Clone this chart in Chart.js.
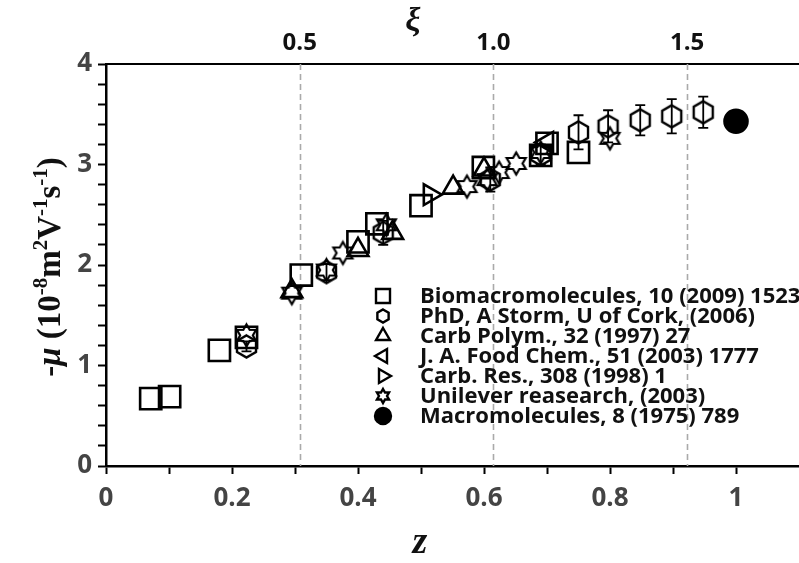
<!DOCTYPE html>
<html>
<head>
<meta charset="utf-8">
<script src="https://cdn.jsdelivr.net/npm/chart.js"></script>
<style>
  body { margin: 0; background: #fff; }
  #wrap { width: 799px; height: 563px; }
</style>
</head>
<body>
<div id="wrap"><canvas id="mobilityChart" width="799" height="563"></canvas></div>
<script>
// Electrophoretic mobility of pectins against charge fraction z, collected from several sources

const biomacroZ  = [0.071, 0.101, 0.180, 0.223, 0.310, 0.400, 0.430, 0.500, 0.599, 0.690, 0.700, 0.750];
const biomacroMu = [0.67, 0.69, 1.15, 1.28, 1.90, 2.23, 2.41, 2.59, 2.97, 3.09, 3.21, 3.12];

const stormZ   = [0.223, 0.350, 0.440, 0.610, 0.690, 0.750, 0.797, 0.848, 0.898, 0.948];
const stormMu  = [1.19, 1.93, 2.32, 2.85, 3.10, 3.32, 3.38, 3.44, 3.48, 3.52];
const stormErr = [0.05, 0.08, 0.12, 0.12, 0.10, 0.17, 0.16, 0.15, 0.17, 0.155];

const carbPolymZ  = [0.295, 0.400, 0.455, 0.551, 0.600];
const carbPolymMu = [1.74, 2.15, 2.32, 2.77, 2.95];

const foodChemZ  = [0.700];
const foodChemMu = [3.22];

const carbResZ  = [0.514];
const carbResMu = [2.70];

const unileverZ  = [0.223, 0.295, 0.350, 0.376, 0.445, 0.573, 0.605, 0.624, 0.651, 0.690, 0.800];
const unileverMu = [1.30, 1.72, 1.95, 2.12, 2.40, 2.78, 2.85, 2.92, 3.01, 3.12, 3.26];

const macroZ  = [1.0];
const macroMu = [3.43];

// top axis: degree of charge xi, xi = 1 sits at z = 0.615
const zPerXi = 0.615;
const xiTicks = [0.5, 1.0, 1.5];

const pairs = (xs, ys) => xs.map((v, i) => ({x: v, y: ys[i]}));

// outline paths for the marker shapes, centred on 0,0
function traceShape(ctx, kind, r) {
  ctx.beginPath();
  if (kind === 'rect') {
    ctx.rect(-r, -r, 2 * r, 2 * r);
  } else if (kind === 'circle') {
    ctx.arc(0, 0, r, 0, Math.PI * 2);
  } else if (kind === 'hexagon') {
    for (let i = 0; i < 6; i++) {
      const a = -Math.PI / 2 + i * Math.PI / 3;
      ctx.lineTo(Math.cos(a) * r, Math.sin(a) * r);
    }
  } else if (kind === 'hexagram') {
    for (let i = 0; i < 12; i++) {
      const a = -Math.PI / 2 + i * Math.PI / 6;
      const rr = i % 2 ? r / Math.sqrt(3) : r;
      ctx.lineTo(Math.cos(a) * rr, Math.sin(a) * rr);
    }
  } else {
    const rot = kind === 'triLeft' ? -Math.PI / 2 : kind === 'triRight' ? Math.PI / 2 : 0;
    for (let i = 0; i < 3; i++) {
      const a = rot - Math.PI / 2 + i * 2 * Math.PI / 3;
      ctx.lineTo(Math.cos(a) * r, Math.sin(a) * r);
    }
  }
  ctx.closePath();
}

function markerCanvas(kind, r, lw) {
  const size = Math.ceil(2 * r + 2 * lw + 2);
  const c = document.createElement('canvas');
  c.width = size;
  c.height = size;
  const ctx = c.getContext('2d');
  ctx.translate(size / 2, size / 2);
  traceShape(ctx, kind, r);
  ctx.lineWidth = lw;
  ctx.strokeStyle = '#000';
  ctx.stroke();
  return c;
}

const hexagonImg = markerCanvas('hexagon', 11, 2.4);
const hexagramImg = markerCanvas('hexagram', 11, 2.2);

const common = {
  borderColor: '#000',
  backgroundColor: 'rgba(0,0,0,0)',
  borderWidth: 2.6
};

const datasets = [
  {label: 'Biomacromolecules, 10 (2009) 1523', data: pairs(biomacroZ, biomacroMu),
   pointStyle: 'rect', pointRadius: 15, legendShape: 'rect', legendSize: 7},
  {label: 'PhD, A Storm, U of Cork, (2006)', data: pairs(stormZ, stormMu), errors: stormErr,
   pointStyle: hexagonImg, pointRadius: 11, legendShape: 'hexagon', legendSize: 6.5},
  {label: 'Carb Polym., 32 (1997) 27', data: pairs(carbPolymZ, carbPolymMu),
   pointStyle: 'triangle', pointRadius: 12, legendShape: 'triangle', legendSize: 8},
  {label: 'J. A. Food Chem., 51 (2003) 1777', data: pairs(foodChemZ, foodChemMu),
   pointStyle: 'triangle', pointRotation: -90, pointRadius: 12, legendShape: 'triLeft', legendSize: 8},
  {label: 'Carb. Res., 308 (1998) 1', data: pairs(carbResZ, carbResMu),
   pointStyle: 'triangle', pointRotation: 90, pointRadius: 12, legendShape: 'triRight', legendSize: 8},
  {label: 'Unilever reasearch, (2003)', data: pairs(unileverZ, unileverMu),
   pointStyle: hexagramImg, pointRadius: 11, legendShape: 'hexagram', legendSize: 7},
  {label: 'Macromolecules, 8 (1975) 789', data: pairs(macroZ, macroMu),
   pointStyle: 'circle', pointRadius: 11.5, backgroundColor: '#000', legendShape: 'circle', legendSize: 8, filled: true}
].map(ds => Object.assign({}, common, ds));

// dashed verticals at the labelled xi values
const xiLines = {
  id: 'xiLines',
  beforeDatasetsDraw(chart) {
    const {ctx, chartArea, scales: {x}} = chart;
    ctx.save();
    ctx.strokeStyle = '#aaa';
    ctx.lineWidth = 1.6;
    ctx.setLineDash([6, 4]);
    xiTicks.forEach(xi => {
      const px = Math.round(x.getPixelForValue(xi * zPerXi)) + 0.5;
      ctx.beginPath();
      ctx.moveTo(px, chartArea.top);
      ctx.lineTo(px, chartArea.bottom);
      ctx.stroke();
    });
    ctx.restore();
  }
};

// vertical error bars with caps
const errorBars = {
  id: 'errorBars',
  afterDatasetsDraw(chart) {
    const {ctx, scales: {x, y}} = chart;
    ctx.save();
    ctx.strokeStyle = '#000';
    ctx.lineWidth = 1.8;
    chart.data.datasets.forEach(ds => {
      if (!ds.errors) return;
      ds.data.forEach((p, i) => {
        const e = ds.errors[i];
        if (!e) return;
        const px = x.getPixelForValue(p.x);
        const top = y.getPixelForValue(p.y + e);
        const bot = y.getPixelForValue(p.y - e);
        ctx.beginPath();
        ctx.moveTo(px, top); ctx.lineTo(px, bot);
        ctx.moveTo(px - 5, top); ctx.lineTo(px + 5, top);
        ctx.moveTo(px - 5, bot); ctx.lineTo(px + 5, bot);
        ctx.stroke();
      });
    });
    ctx.restore();
  }
};

// legend inside the plot, lower right
const sourceLegend = {
  id: 'sourceLegend',
  afterDraw(chart) {
    const {ctx} = chart;
    const markX = 383, textX = 420, top = 296, rowH = 20;
    ctx.save();
    ctx.font = "bold 22px 'Open Sans', sans-serif";
    ctx.textBaseline = 'middle';
    ctx.fillStyle = '#111';
    chart.data.datasets.forEach((ds, i) => {
      const cy = top + i * rowH;
      ctx.save();
      ctx.translate(markX, cy);
      traceShape(ctx, ds.legendShape, ds.legendSize);
      ctx.lineWidth = 2.4;
      ctx.strokeStyle = '#000';
      if (ds.filled) { ctx.fillStyle = '#000'; ctx.fill(); }
      ctx.stroke();
      ctx.restore();
      ctx.fillText(ds.label, textX, cy + 1);
    });
    ctx.restore();
  }
};

// axis titles: xi on top, z below, mobility with units on the left
const axisTitles = {
  id: 'axisTitles',
  afterDraw(chart) {
    const {ctx} = chart;
    ctx.save();
    ctx.fillStyle = '#111';
    ctx.textAlign = 'center';
    ctx.textBaseline = 'alphabetic';
    ctx.font = "bold italic 34px 'Liberation Serif', serif";
    ctx.fillText('\u03BE', 413, 31);
    ctx.font = "bold italic 38px 'Liberation Serif', serif";
    ctx.fillText('z', 420, 553);

    const big = 33, small = 21;
    const parts = [
      ['-', 'bold', big, 0], ['\u03BC', 'bold italic', big, 0], [' (10', 'bold', big, 0],
      ['-8', 'bold', small, 1], ['m', 'bold', big, 0], ['2', 'bold', small, 1],
      ['V', 'bold', big, 0], ['-1', 'bold', small, 1], ['s', 'bold', big, 0],
      ['-1', 'bold', small, 1], [')', 'bold', big, 0]
    ];
    let total = 0;
    parts.forEach(p => {
      ctx.font = `${p[1]} ${p[2]}px 'Liberation Serif', serif`;
      p.push(ctx.measureText(p[0]).width);
      total += p[4];
    });
    ctx.translate(60, 267);
    ctx.rotate(-Math.PI / 2);
    ctx.textAlign = 'left';
    let pos = -total / 2;
    parts.forEach(p => {
      ctx.font = `${p[1]} ${p[2]}px 'Liberation Serif', serif`;
      ctx.fillText(p[0], pos, p[3] ? -13 : 0);
      pos += p[4];
    });
    ctx.restore();
  }
};

const tickFont = {family: "'Open Sans', sans-serif", size: 26, weight: 'bold'};

// drop the room Chart.js keeps for edge labels so the plot runs to the right edge
const noSidePadding = s => { s.paddingLeft = 0; s.paddingRight = 0; };

new Chart(document.getElementById('mobilityChart').getContext('2d'), {
  type: 'scatter',
  data: {datasets: datasets},
  options: {
    responsive: false,
    animation: false,
    events: [],
    layout: {padding: 0, autoPadding: false},
    plugins: {legend: {display: false}, tooltip: {enabled: false}},
    scales: {
      x: {
        type: 'linear', position: 'bottom', min: 0, max: 1.1,
        afterFit: s => { s.height = 97; noSidePadding(s); },
        afterBuildTicks: s => {
          s.ticks = [];
          for (let i = 0; i <= 10; i++) s.ticks.push({value: i / 10});
        },
        ticks: {
          autoSkip: false, maxRotation: 0, color: '#444', font: tickFont, padding: 9,
          callback: v => (Math.round(v * 10) % 2 === 0 ? String(+v.toFixed(1)) : '')
        },
        grid: {drawOnChartArea: false, color: '#000', tickLength: 8, tickWidth: 2},
        border: {color: '#000', width: 2.5}
      },
      x2: {
        type: 'linear', position: 'top', min: 0, max: 1.1,
        afterFit: s => { s.height = 64; noSidePadding(s); },
        afterBuildTicks: s => { s.ticks = xiTicks.map(xi => ({value: xi * zPerXi})); },
        ticks: {
          autoSkip: false, maxRotation: 0, color: '#111', padding: 6,
          font: {family: "'Liberation Sans Narrow', 'Open Sans', sans-serif", size: 24, weight: 'bold'},
          callback: v => (v / zPerXi).toFixed(1)
        },
        grid: {drawOnChartArea: false, drawTicks: false},
        border: {color: '#000', width: 2}
      },
      y: {
        type: 'linear', min: 0, max: 4,
        afterFit: s => { s.width = 106; },
        ticks: {
          stepSize: 0.2, autoSkip: false, color: '#444', font: tickFont, padding: 6,
          callback: v => (Math.abs(v - Math.round(v)) < 1e-6 ? String(Math.round(v)) : '')
        },
        grid: {drawOnChartArea: false, color: '#000', tickLength: 8, tickWidth: 2},
        border: {color: '#000', width: 2.5}
      }
    }
  },
  plugins: [xiLines, errorBars, sourceLegend, axisTitles]
});
</script>
</body>
</html>
